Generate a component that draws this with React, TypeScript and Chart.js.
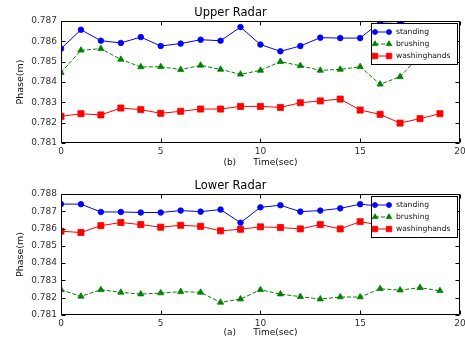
import React, { useEffect, useRef } from "react";
import { Chart, registerables } from "chart.js";

Chart.register(...registerables);

const timeSec = [0, 1, 2, 3, 4, 5, 6, 7, 8, 9, 10, 11, 12, 13, 14, 15, 16, 17, 18, 19];
const xTicks = [0, 5, 10, 15, 20];

// Upper radar
const upperStanding = [0.78564, 0.78657, 0.78603, 0.78592, 0.78621, 0.78577, 0.78589, 0.78608, 0.78603, 0.7867, 0.78584, 0.78551, 0.78577, 0.78618, 0.78616, 0.78616, 0.78695, 0.78698, 0.7866, 0.7866];
const upperBrushing = [0.78446, 0.78556, 0.78564, 0.78511, 0.78474, 0.78475, 0.78461, 0.78482, 0.78462, 0.78438, 0.78457, 0.785, 0.7848, 0.78457, 0.78462, 0.78475, 0.78389, 0.78426, 0.7853, 0.7853];
const upperWashing = [0.78231, 0.78244, 0.78238, 0.78272, 0.78264, 0.78246, 0.78256, 0.78267, 0.78267, 0.7828, 0.7828, 0.78275, 0.78298, 0.78307, 0.78316, 0.78262, 0.78241, 0.78198, 0.7822, 0.78244];
const upperYTicks = [0.781, 0.782, 0.783, 0.784, 0.785, 0.786, 0.787];

// Lower radar
const lowerStanding = [0.78742, 0.78741, 0.78696, 0.78696, 0.78693, 0.78693, 0.78704, 0.78698, 0.7871, 0.78634, 0.78723, 0.78735, 0.78698, 0.78704, 0.78717, 0.78741, 0.7873, 0.7872, 0.7873, 0.7872];
const lowerBrushing = [0.78246, 0.78208, 0.78246, 0.78231, 0.78221, 0.78227, 0.78235, 0.78231, 0.78173, 0.78192, 0.78246, 0.78221, 0.78206, 0.78192, 0.78204, 0.78204, 0.78252, 0.78244, 0.78258, 0.7824];
const lowerWashing = [0.78585, 0.78577, 0.78617, 0.78635, 0.78623, 0.78608, 0.78619, 0.78613, 0.78587, 0.78596, 0.7861, 0.78606, 0.78598, 0.78623, 0.78598, 0.7864, 0.7862, 0.7861, 0.7862, 0.7861];
const lowerYTicks = [0.781, 0.782, 0.783, 0.784, 0.785, 0.786, 0.787, 0.788];

const seriesNames = ["standing", "brushing", "washinghands"];
const seriesColors = ["#0000ff", "#008000", "#ff0000"];
const seriesMarkers = ["circle", "triangle", "rect"];
const seriesRadius = [2.8, 3.6, 4.3];
const seriesDash = [[], [4, 2], []];

const FONT = "DejaVu Sans";

function drawMarker(ctx: CanvasRenderingContext2D, style: string, x: number, y: number, r: number, color: string) {
  ctx.save();
  ctx.fillStyle = color;
  ctx.strokeStyle = color;
  ctx.lineWidth = 0.8;
  ctx.setLineDash([]);
  ctx.beginPath();
  if (style === "circle") {
    ctx.arc(x, y, r, 0, Math.PI * 2);
  } else if (style === "triangle") {
    const h = r * 1.5;
    const w = r * Math.sqrt(3) / 2;
    ctx.moveTo(x, y - h * 2 / 3);
    ctx.lineTo(x + w, y + h / 3);
    ctx.lineTo(x - w, y + h / 3);
    ctx.closePath();
  } else {
    const s = Math.SQRT1_2 * r;
    ctx.rect(x - s, y - s, 2 * s, 2 * s);
  }
  ctx.fill();
  ctx.stroke();
  ctx.restore();
}

const framePlugin = {
  id: "mplFrame",
  afterDatasetsDraw(chart: any) {
    const { ctx, chartArea: a, scales } = chart;
    ctx.save();
    ctx.strokeStyle = "#000";
    ctx.lineWidth = 1;
    ctx.setLineDash([]);
    const L = Math.round(a.left) + 0.5;
    const R = Math.round(a.right) - 0.5;
    const T = Math.round(a.top) + 0.5;
    const B = Math.round(a.bottom) - 0.5;
    ctx.beginPath();
    ctx.rect(L, T, R - L, B - T);
    const xs = scales.x;
    const ys = scales.y;
    xs.ticks.forEach((t: any) => {
      const px = Math.round(xs.getPixelForValue(t.value)) + 0.5;
      ctx.moveTo(px, B);
      ctx.lineTo(px, B - 4);
      ctx.moveTo(px, T);
      ctx.lineTo(px, T + 4);
    });
    ys.ticks.forEach((t: any) => {
      const py = Math.round(ys.getPixelForValue(t.value)) + 0.5;
      ctx.moveTo(L, py);
      ctx.lineTo(L + 4, py);
      ctx.moveTo(R, py);
      ctx.lineTo(R - 4, py);
    });
    ctx.stroke();

    // legend (upper right, drawn over the lines)
    const bw = 86;
    const bh = 41;
    const bx = Math.round(a.right) - 3 - bw;
    const by = Math.round(a.top) + 2;
    ctx.fillStyle = "#fff";
    ctx.fillRect(bx, by, bw, bh);
    ctx.strokeRect(bx + 0.5, by + 0.5, bw, bh);
    ctx.font = `7.6px "${FONT}"`;
    ctx.textBaseline = "middle";
    ctx.textAlign = "left";
    seriesNames.forEach((name, i) => {
      const y = by + 9 + i * 12;
      const x1 = bx + 4;
      const x2 = bx + 18;
      ctx.save();
      ctx.strokeStyle = seriesColors[i];
      ctx.setLineDash(seriesDash[i]);
      ctx.beginPath();
      ctx.moveTo(x1, y);
      ctx.lineTo(x2, y);
      ctx.stroke();
      ctx.restore();
      drawMarker(ctx, seriesMarkers[i], x1, y, seriesRadius[i] * 0.9, seriesColors[i]);
      drawMarker(ctx, seriesMarkers[i], x2, y, seriesRadius[i] * 0.9, seriesColors[i]);
      ctx.fillStyle = "#111";
      ctx.fillText(name, bx + 25, y + 0.5);
    });
    ctx.restore();
  },
};

function makeConfig(
  title: string,
  xTitle: string,
  series: number[][],
  yTicks: number[],
  xHeight: number,
  xTitlePad: number
): any {
  const tickFont = { family: FONT, size: 9 };
  return {
    type: "line",
    data: {
      labels: timeSec,
      datasets: series.map((vals, i) => ({
        label: seriesNames[i],
        data: vals.map((v, j) => ({ x: timeSec[j], y: v })),
        borderColor: seriesColors[i],
        backgroundColor: seriesColors[i],
        borderWidth: 1,
        borderDash: seriesDash[i],
        pointStyle: seriesMarkers[i],
        pointRadius: seriesRadius[i],
        pointBorderWidth: 0.8,
        pointBackgroundColor: seriesColors[i],
        pointBorderColor: seriesColors[i],
        tension: 0,
        fill: false,
        clip: 0,
      })),
    },
    options: {
      animation: false,
      responsive: false,
      devicePixelRatio: 1,
      events: [],
      layout: { padding: { left: 0, right: 4, top: 0, bottom: 0 } },
      plugins: {
        legend: { display: false },
        tooltip: { enabled: false },
        title: {
          display: true,
          text: title,
          color: "#000",
          font: { family: FONT, size: 11.5, weight: "normal" },
          padding: { top: 6, bottom: 1.2 },
        },
      },
      scales: {
        x: {
          type: "linear",
          min: xTicks[0],
          max: xTicks[xTicks.length - 1],
          afterBuildTicks: (s: any) => {
            s.ticks = xTicks.map((v) => ({ value: v }));
          },
          ticks: { color: "#333", font: tickFont, padding: 3, maxRotation: 0, autoSkip: false, callback: (v: any) => String(v) },
          grid: { display: false, drawTicks: false },
          border: { display: false },
          title: {
            display: true,
            text: xTitle,
            color: "#111",
            font: { family: FONT, size: 9 },
            padding: { top: 0, bottom: xTitlePad },
          },
          afterFit: (s: any) => {
            s.height = xHeight;
            s.paddingLeft = 0;
            s.paddingRight = 0;
          },
        },
        y: {
          type: "linear",
          min: yTicks[0],
          max: yTicks[yTicks.length - 1],
          afterBuildTicks: (s: any) => {
            s.ticks = yTicks.map((v) => ({ value: v }));
          },
          ticks: { color: "#333", font: tickFont, padding: 4, autoSkip: false, callback: (v: any) => Number(v).toFixed(3) },
          grid: { display: false, drawTicks: false },
          border: { display: false },
          title: {
            display: true,
            text: "Phase(m)",
            color: "#111",
            font: { family: FONT, size: 9.5 },
            padding: { top: 15, bottom: 0 },
          },
          afterFit: (s: any) => {
            s.width = 61;
            s.paddingTop = 0;
            s.paddingBottom = 0;
          },
        },
      },
    },
    plugins: [framePlugin],
  };
}

function RadarChart(props: { config: any }) {
  const ref = useRef<HTMLCanvasElement | null>(null);
  useEffect(() => {
    if (!ref.current) return;
    const chart = new Chart(ref.current, props.config);
    return () => chart.destroy();
  }, []);
  return <canvas ref={ref} width={465} height={173} style={{ display: "block", width: 465, height: 173 }} />;
}

export default function App() {
  Chart.defaults.font.family = FONT;
  const upper = makeConfig("Upper Radar", "(b)      Time(sec)", [upperStanding, upperBrushing, upperWashing], upperYTicks, 30, 4.6);
  const lower = makeConfig("Lower Radar", "(a)      Time(sec)", [lowerStanding, lowerBrushing, lowerWashing], lowerYTicks, 31, 7.6);
  return (
    <div style={{ position: "fixed", left: 0, top: 0, width: 465, height: 346, background: "#fff" }}>
      <RadarChart config={upper} />
      <RadarChart config={lower} />
    </div>
  );
}
